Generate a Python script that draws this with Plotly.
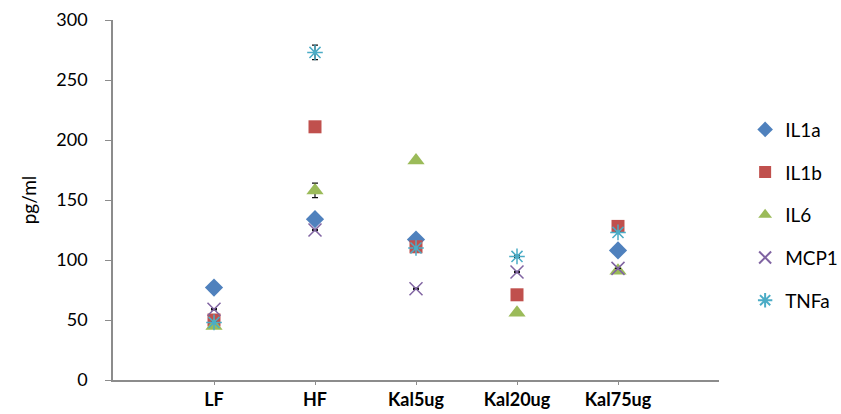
import plotly.graph_objects as go

categories = ["LF", "HF", "Kal5ug", "Kal20ug", "Kal75ug"]
x_pos = [1, 2, 3, 4, 5]

IL1a = [77, 134, 117, None, 108]
IL1b = [50, 211, 111, 71, 128]
IL6 = [45, 158, 183, 56, 91]
MCP1 = [59, 125, 76, 90, 93]
TNFa = [48, 273, 110, 103, 123]

# small error bars visible in the picture
IL1a_err = [0, 0, 0, 0, 0]
IL1b_err = [0, 0, 0, 0, 0]
IL6_err = [0, 6, 0, 0, 0]
MCP1_err = [0.5, 0.5, 0.5, 0.5, 0]
TNFa_err = [0, 6, 0, 1, 0]

series = [
    ("IL1a", IL1a, IL1a_err, "#4F81BD", "diamond", 14, None),
    ("IL1b", IL1b, IL1b_err, "#C0504D", "square", 13, None),
    ("IL6", IL6, IL6_err, "#9BBB59", "triangle-up", 15, None),
    ("MCP1", MCP1, MCP1_err, "#8064A2", "x-thin-open", 13, 1.5),
    ("TNFa", TNFa, TNFa_err, "#4BACC6", "asterisk-open", 13, 1.5),
]

fig = go.Figure()
for name, vals, err, color, sym, size, lw in series:
    marker = dict(symbol=sym, size=size, color=color)
    if lw:
        marker["line"] = dict(color=color, width=lw)
    else:
        marker["line"] = dict(width=0)
    show_err = any(e > 0 for e in err)
    fig.add_trace(go.Scatter(
        x=x_pos, y=vals, mode="markers", name=name, legendgroup=name, marker=marker,
        error_y=dict(type="data", array=err, visible=show_err, color="#111111",
                     thickness=1.2, width=3),
    ))

fig.update_layout(
    width=841, height=414,
    margin=dict(l=113, r=122, t=20, b=34),
    paper_bgcolor="white", plot_bgcolor="white",
    font=dict(family="Lato, Open Sans, sans-serif", color="#000"),
    legend=dict(xref="container", yref="container", x=0.886, y=0.483,
                xanchor="left", yanchor="middle",
                font=dict(size=19), tracegroupgap=15, itemsizing="constant"),
    showlegend=True,
)
fig.update_xaxes(range=[0, 6], tickvals=x_pos, ticktext=categories, automargin=False,
                 showgrid=False, zeroline=False, showline=True, linecolor="#8c8c8c",
                 linewidth=1.5, ticks="outside", ticklen=3, tickcolor="#8c8c8c",
                 tickfont=dict(size=18, family="Lato, sans-serif", weight="bold"))
fig.update_yaxes(range=[0, 300], dtick=50, showgrid=False, zeroline=False, automargin=False,
                 showline=True, linecolor="#8c8c8c", linewidth=1.5,
                 ticks="outside", ticklen=6, tickcolor="#8c8c8c", ticklabelstandoff=14,
                 tickfont=dict(size=18), title=dict(text="pg/ml", font=dict(size=19), standoff=15))

fig.write_html("out.html", config={"displayModeBar": False},
               post_script="document.body.style.margin='0';")
